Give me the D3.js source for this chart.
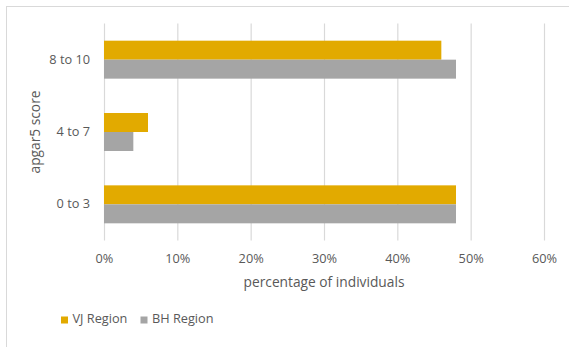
<!DOCTYPE html>
<html>
<head>
<meta charset="utf-8">
<script src="https://cdn.jsdelivr.net/npm/d3@7"></script>
<style>
  html, body { margin: 0; padding: 0; background: #fff; }
  svg { display: block; }
  text { font-family: "Open Sans", sans-serif; fill: #595959; }
</style>
</head>
<body>
<svg id="chart" width="569" height="347"></svg>
<script>
const categories = ["8 to 10", "4 to 7", "0 to 3"];
const seriesNames = ["VJ Region", "BH Region"];
const vjValues = [0.46, 0.06, 0.48];
const bhValues = [0.48, 0.04, 0.48];
const xTicks = [0, 0.1, 0.2, 0.3, 0.4, 0.5, 0.6];
const colors = ["#E2AA00", "#A5A5A5"];

(function () {
const svg = d3.select("#chart");
const W = 569, H = 347;
const pLeft = 104, pRight = 544, pTop = 23.5, pBottom = 240.5;
const FONT = "'Open Sans', sans-serif";

// fit a font size so that a sample string has the measured target width
function fitSize(sample, target) {
  const t = svg.append("text").attr("font-size", 20).style("font-family", FONT).text(sample);
  const w = t.node().getComputedTextLength();
  t.remove();
  return 20 * target / w;
}
const titleSize = fitSize("percentage of individuals", 161);
const labelSize = fitSize("VJ Region", 55);

// outer border (extends beyond the visible area right/bottom)
svg.append("rect")
  .attr("x", 6.5).attr("y", 6.5).attr("width", W + 10).attr("height", H + 10)
  .attr("fill", "none").attr("stroke", "#d9d9d9").attr("stroke-width", 1);

const x = d3.scaleLinear().domain([0, 0.6]).range([pLeft, pRight]);
const y = d3.scaleBand().domain(categories).range([pTop, pBottom])
  .paddingInner(0.475).paddingOuter(0.2375);
const ys = d3.scaleBand().domain(seriesNames).range([0, y.bandwidth()]);

// gridlines + tick labels via axis
const xAxis = d3.axisBottom(x).tickValues(xTicks).tickFormat(d3.format(".0%"))
  .tickSizeInner(-(pBottom - pTop)).tickSizeOuter(0).tickPadding(13);
const gx = svg.append("g").attr("transform", `translate(0,${pBottom})`).call(xAxis);
gx.select(".domain").remove();
gx.selectAll(".tick line").attr("stroke", "#d9d9d9").attr("stroke-width", 1.2);
gx.selectAll(".tick text").attr("font-size", labelSize).style("font-family", FONT).attr("fill", "#595959");

// bars
const rows = categories.map((c, i) => ({ cat: c, vals: [vjValues[i], bhValues[i]] }));
const groups = svg.append("g").selectAll("g").data(rows).join("g")
  .attr("transform", d => `translate(0,${y(d.cat)})`);
groups.selectAll("rect").data(d => d.vals.map((v, j) => ({ v, s: seriesNames[j], j })))
  .join("rect")
  .attr("x", x(0))
  .attr("y", d => ys(d.s))
  .attr("width", d => x(d.v) - x(0))
  .attr("height", ys.bandwidth())
  .attr("fill", d => colors[d.j]);

// category labels
const yAxis = d3.axisLeft(y).tickSize(0).tickPadding(14);
const gy = svg.append("g").attr("transform", `translate(${pLeft},0)`).call(yAxis);
gy.select(".domain").remove();
gy.selectAll(".tick text").attr("font-size", labelSize).style("font-family", FONT).attr("fill", "#595959");

// axis titles
svg.append("text").attr("x", (pLeft + pRight) / 2).attr("y", 283)
  .attr("text-anchor", "middle").attr("dominant-baseline", "middle")
  .attr("font-size", titleSize).text("percentage of individuals");
svg.append("text").attr("transform", `translate(36.5,${(pTop + pBottom) / 2}) rotate(-90)`)
  .attr("text-anchor", "middle").attr("dominant-baseline", "middle")
  .attr("font-size", titleSize).text("apgar5 score");

// legend
const legendPos = [61, 140.5];
const lg = svg.append("g").selectAll("g").data(seriesNames).join("g")
  .attr("transform", (d, i) => `translate(${legendPos[i]},320)`);
lg.append("rect").attr("x", 0).attr("y", -3.5).attr("width", 7).attr("height", 7)
  .attr("fill", (d, i) => colors[i]);
lg.append("text").attr("x", 11.5).attr("y", 0).attr("dominant-baseline", "middle")
  .attr("font-size", labelSize).text(d => d);
})();
</script>
</body>
</html>
